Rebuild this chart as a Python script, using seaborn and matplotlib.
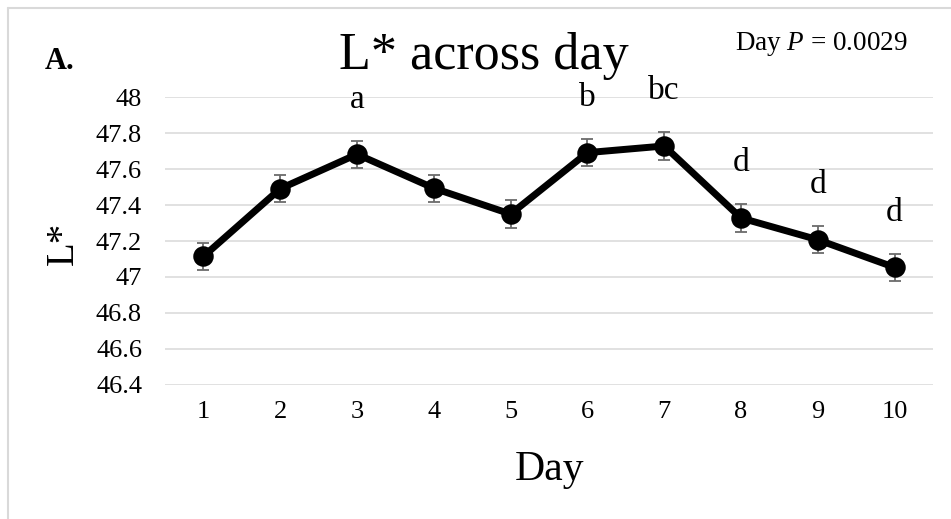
import numpy as np
import pandas as pd
import matplotlib
matplotlib.use("Agg")
import matplotlib.pyplot as plt
from matplotlib.lines import Line2D
import seaborn as sns

# ---- data ----
days = ["1", "2", "3", "4", "5", "6", "7", "8", "9", "10"]
lstar = [47.114, 47.491, 47.683, 47.494, 47.350, 47.692, 47.729, 47.328, 47.207, 47.053]
sem = [0.076, 0.076, 0.076, 0.076, 0.076, 0.076, 0.076, 0.076, 0.076, 0.076]
letters = ["", "", "a", "", "", "b", "bc", "d", "d", "d"]
y_ticks = [46.4, 46.6, 46.8, 47.0, 47.2, 47.4, 47.6, 47.8, 48.0]
y_tick_labels = ["46.4", "46.6", "46.8", "47", "47.2", "47.4", "47.6", "47.8", "48"]

df = pd.DataFrame({"Day": days, "L": lstar, "sem": sem})

sns.set_style("white")
plt.rcParams["font.family"] = ["Liberation Serif", "DejaVu Serif"]
plt.rcParams["mathtext.fontset"] = "custom"
plt.rcParams["mathtext.rm"] = "Liberation Serif"
plt.rcParams["mathtext.it"] = "Liberation Serif:italic"
plt.rcParams["text.color"] = "black"
plt.rcParams["axes.labelcolor"] = "black"
plt.rcParams["xtick.color"] = "black"
plt.rcParams["ytick.color"] = "black"

fig = plt.figure(figsize=(9.51, 5.19), dpi=100)
ax = fig.add_axes([165 / 951, 1 - 384.7 / 519, 768 / 951, 287.4 / 519])

# error bars (behind markers)
ax.errorbar(np.arange(len(days)), df["L"], yerr=df["sem"], fmt="none",
            ecolor="#6b6b6b", elinewidth=1.3, capsize=4, capthick=1.3, zorder=2)

sns.pointplot(data=df, x="Day", y="L", order=days, color="black",
              errorbar=None, markers="o", markersize=11, linewidth=5,
              ax=ax, zorder=3)

# significance letters
for i, (lab, v) in enumerate(zip(letters, lstar)):
    if lab:
        ax.text(i, v + 0.26, lab, ha="center", va="baseline", fontsize=24, color="black")

ax.set_ylim(46.4, 48.0)
ax.set_xlim(-0.5, len(days) - 0.5)
ax.set_yticks(y_ticks)
ax.set_yticklabels(y_tick_labels)
ax.yaxis.grid(True, color="#d9d9d9", linewidth=1.1)
ax.xaxis.grid(False)
ax.set_axisbelow(True)
for s in ax.spines.values():
    s.set_visible(False)
ax.tick_params(axis="y", length=0, pad=16.5, labelsize=19, labelcolor="black")
ax.tick_params(axis="x", length=0, pad=12, labelsize=19, labelcolor="black")

ax.set_xlabel("Day", fontsize=30, color="black")
ax.xaxis.set_label_coords(0.5, (384.7 - 480) / 287.4)
ax.xaxis.label.set_va("baseline")
ax.set_ylabel("L*", fontsize=28, color="black")
ax.yaxis.set_label_coords((63 - 165) / 768, 0.493)
ax.yaxis.label.set_va("center")
ax.yaxis.label.set_ha("center")

ax.set_title("L* across day", fontsize=37.5, x=(484 - 165) / 768,
             y=(384.7 - 77.3) / 287.4, va="baseline", ha="center", color="black")

fig.text(45 / 951, 1 - 69 / 519, "A.", fontsize=22, fontweight="bold", ha="left", va="baseline",
         color="black")
fig.text(908 / 951, 1 - 50 / 519, "Day $P$ = 0.0029", fontsize=19.5, ha="right", va="baseline",
         color="black")

# chart-area border (left and top visible)
fig.add_artist(Line2D([7.5 / 951, 7.5 / 951], [0, 1 - 7.5 / 519], color="#d9d9d9", linewidth=1.5,
                      transform=fig.transFigure))
fig.add_artist(Line2D([7.5 / 951, 1], [1 - 7.5 / 519, 1 - 7.5 / 519], color="#d9d9d9", linewidth=1.5,
                      transform=fig.transFigure))

fig.savefig("out.png", dpi=100)
